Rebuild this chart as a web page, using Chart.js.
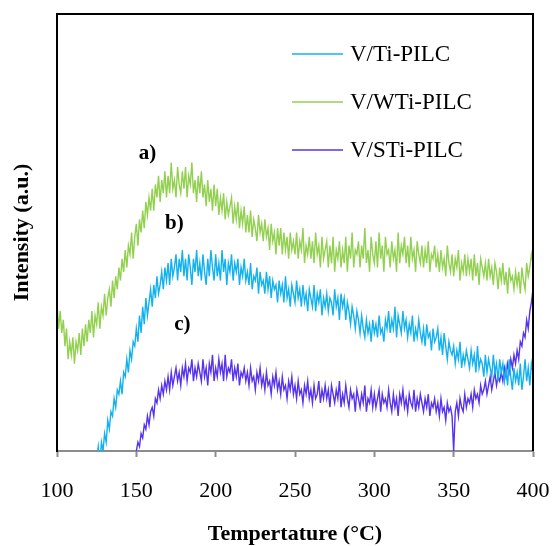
<!DOCTYPE html>
<html>
<head>
<meta charset="utf-8">
<script src="https://cdn.jsdelivr.net/npm/chart.js@4/dist/chart.umd.min.js"></script>
<style>
  html, body { margin: 0; padding: 0; background: #fff; }
</style>
</head>
<body>
<canvas id="chart" width="552" height="546"></canvas>
<script>
// temperature grid: 100..400 °C every 1 °C
const tempStart = 100;
const tempStep = 1;
const xTicks = [100, 150, 200, 250, 300, 350, 400];

const seriesNames = ["V/Ti-PILC", "V/WTi-PILC", "V/STi-PILC"];
const seriesColors = ["#13b2ee", "#92d050", "#5733ee"];

// intensities (a.u., 0 = bottom of frame), one row = 10 °C
const tiPilc = [
  -10, -10, -10, -10, -10, -10, -10, -10, -10, -10,
  -10, -10, -10, -10, -10, -10, -10, -10, -10, -10,
  -10, -10, -10, -10, -6, -2, 1, -3, 2, 0,
  4, 2, 7, 5, 9, 8, 12, 10, 14, 13,
  16, 13, 18, 17, 21, 18, 23, 21, 25, 24,
  28, 25, 31, 27, 33, 29, 35, 31, 34, 37,
  33, 38, 35, 40, 36, 38, 41, 37, 42, 39,
  43, 38, 44, 40, 42, 45, 39, 44, 41, 46,
  40, 44, 39, 45, 42, 38, 44, 41, 46, 40,
  43, 39, 45, 41, 38, 44, 40, 46, 42, 39,
  45, 40, 43, 39, 46, 41, 44, 38, 43, 41,
  45, 39, 43, 41, 44, 38, 42, 40, 44, 39,
  41, 38, 43, 37, 40, 39, 42, 36, 41, 38,
  39, 36, 41, 37, 40, 35, 39, 37, 38, 34,
  39, 36, 38, 34, 40, 35, 37, 33, 38, 36,
  34, 39, 35, 37, 33, 38, 34, 36, 32, 37,
  35, 33, 38, 32, 36, 34, 37, 31, 35, 33,
  36, 32, 35, 34, 31, 37, 33, 35, 30, 36,
  33, 35, 30, 34, 32, 29, 33, 31, 28, 32,
  30, 27, 31, 28, 26, 30, 27, 29, 25, 30,
  27, 29, 26, 31, 27, 28, 25, 30, 28, 32,
  27, 30, 28, 33, 26, 31, 29, 27, 32, 28,
  30, 26, 29, 27, 31, 25, 28, 26, 30, 27,
  25, 28, 24, 29, 26, 27, 23, 28, 25, 26,
  28, 23, 26, 22, 27, 24, 21, 25, 23, 22,
  24, 20, 23, 21, 25, 19, 22, 20, 23, 21,
  19, 23, 20, 22, 18, 24, 19, 21, 20, 17,
  22, 18, 21, 19, 17, 22, 18, 20, 16, 21,
  18, 20, 16, 19, 15, 21, 17, 14, 19, 16,
  18, 15, 20, 14, 17, 21, 16, 19, 15, 20,
  18
];
const wtiPilc = [
  34, 28, 32, 27, 30, 24, 28, 21, 25, 22,
  26, 20, 25, 23, 27, 22, 28, 24, 29, 25,
  30, 27, 32, 26, 31, 29, 34, 28, 33, 31,
  36, 31, 35, 37, 33, 39, 35, 40, 37, 42,
  39, 44, 41, 46, 42, 47, 45, 50, 44, 49,
  52, 47, 53, 50, 55, 51, 57, 54, 58, 55,
  60, 55, 61, 58, 63, 57, 62, 59, 64, 58,
  63, 59, 66, 60, 62, 58, 65, 61, 59, 64,
  60, 65, 58, 63, 61, 66, 59, 62, 57, 63,
  59, 64, 58, 61, 56, 62, 57, 60, 55, 61,
  56, 60, 54, 58, 55, 59, 53, 57, 54, 56,
  58, 52, 56, 53, 57, 51, 55, 52, 56, 50,
  54, 50, 55, 49, 53, 51, 48, 54, 50, 52,
  48, 53, 49, 51, 46, 52, 48, 50, 45, 51,
  47, 51, 45, 50, 46, 49, 44, 50, 46, 48,
  45, 50, 44, 48, 46, 51, 43, 47, 45, 49,
  44, 48, 43, 50, 45, 47, 42, 49, 44, 46,
  48, 42, 47, 43, 49, 41, 46, 44, 48, 42,
  46, 43, 49, 41, 47, 44, 50, 42, 46, 45,
  48, 42, 47, 44, 51, 43, 46, 41, 49, 45,
  43, 48, 42, 50, 44, 47, 41, 49, 45, 46,
  42, 48, 44, 46, 41, 50, 43, 47, 45, 49,
  43, 47, 42, 49, 44, 46, 41, 48, 45, 43,
  47, 42, 46, 43, 48, 41, 45, 44, 47, 42,
  45, 41, 46, 42, 44, 40, 47, 43, 41, 45,
  40, 44, 42, 46, 39, 43, 41, 45, 40, 44,
  41, 44, 39, 45, 40, 43, 38, 44, 42, 40,
  43, 39, 44, 40, 42, 38, 43, 41, 37, 42,
  39, 43, 38, 41, 36, 42, 39, 40, 37, 41,
  38, 41, 36, 42, 39, 37, 43, 40, 42, 45,
  43
];
const stiPilc = [
  -10, -10, -10, -10, -10, -10, -10, -10, -10, -10,
  -10, -10, -10, -10, -10, -10, -10, -10, -10, -10,
  -10, -10, -10, -10, -10, -10, -10, -10, -10, -10,
  -10, -10, -10, -10, -10, -10, -10, -10, -10, -10,
  -10, -10, -10, -10, -10, -10, -10, -10, -10, -10,
  0, 2, 1, 4, 3, 6, 5, 8, 6, 9,
  10, 8, 12, 11, 14, 12, 15, 13, 16, 14,
  17, 14, 18, 15, 17, 19, 16, 18, 15, 19,
  17, 20, 16, 19, 18, 21, 16, 19, 17, 20,
  18, 16, 21, 17, 19, 15, 20, 18, 22, 16,
  19, 17, 21, 18, 20, 16, 22, 17, 19, 18,
  21, 16, 19, 17, 20, 15, 18, 17, 19, 16,
  18, 15, 19, 16, 17, 14, 18, 16, 19, 15,
  17, 14, 18, 15, 16, 13, 17, 15, 18, 14,
  16, 13, 17, 14, 15, 12, 16, 14, 17, 13,
  15, 12, 16, 13, 14, 11, 15, 13, 16, 12,
  14, 11, 15, 12, 13, 16, 11, 14, 12, 15,
  12, 14, 10, 15, 13, 11, 14, 12, 16, 10,
  13, 11, 15, 12, 10, 14, 12, 13, 9, 14,
  12, 10, 13, 11, 15, 9, 12, 11, 14, 10,
  13, 10, 12, 14, 9, 13, 11, 12, 10, 14,
  11, 9, 13, 10, 12, 8, 13, 11, 14, 10,
  12, 9, 13, 11, 10, 14, 9, 12, 10, 13,
  11, 9, 12, 10, 13, 8, 11, 10, 12, 9,
  11, 8, 12, 9, 10, 7, 11, 9, 10, 8,
  0, 9, 11, 8, 12, 10, 9, 13, 10, 12,
  11, 13, 10, 14, 12, 13, 11, 15, 13, 14,
  16, 13, 15, 17, 14, 16, 18, 15, 17, 16,
  18, 16, 19, 17, 20, 18, 21, 19, 22, 20,
  23, 21, 25, 24, 27, 26, 30, 28, 32, 34,
  37
];

// curve tags a) b) c)
const tagTexts = ["a)", "b)", "c)"];
const tagTemps = [157, 174, 179];
const tagValues = [68, 52, 29];

const serif = "'Times New Roman', 'Liberation Serif', serif";

function toPoints(values) {
  return values.map((v, i) => ({ x: tempStart + i * tempStep, y: v }));
}

// black frame on top / right / left
const framePlugin = {
  id: "frame",
  afterDatasetsDraw(chart) {
    const { ctx, chartArea: a } = chart;
    ctx.save();
    ctx.strokeStyle = "#000";
    ctx.lineWidth = 2;
    ctx.beginPath();
    ctx.moveTo(a.left, a.bottom);
    ctx.lineTo(a.left, a.top);
    ctx.lineTo(a.right, a.top);
    ctx.lineTo(a.right, a.bottom);
    ctx.stroke();
    ctx.restore();
  },
};

// stacked legend in the upper right
const legendPlugin = {
  id: "stackLegend",
  afterDraw(chart) {
    const ctx = chart.ctx;
    ctx.save();
    ctx.font = "23px " + serif;
    ctx.textBaseline = "middle";
    ctx.fillStyle = "#000";
    chart.data.datasets.forEach((ds, i) => {
      const y = 54 + i * 48;
      ctx.strokeStyle = ds.borderColor;
      ctx.lineWidth = 1.5;
      ctx.beginPath();
      ctx.moveTo(292, y);
      ctx.lineTo(343, y);
      ctx.stroke();
      ctx.fillText(ds.label, 350, y + 1);
    });
    ctx.restore();
  },
};

const tagPlugin = {
  id: "tags",
  afterDraw(chart) {
    const { ctx, scales } = chart;
    ctx.save();
    ctx.font = "bold 21px " + serif;
    ctx.textAlign = "center";
    ctx.textBaseline = "middle";
    ctx.fillStyle = "#000";
    tagTexts.forEach((t, i) => {
      ctx.fillText(t, scales.x.getPixelForValue(tagTemps[i]), scales.y.getPixelForValue(tagValues[i]));
    });
    ctx.restore();
  },
};

const allSeries = [tiPilc, wtiPilc, stiPilc];

new Chart(document.getElementById("chart"), {
  type: "line",
  data: {
    datasets: allSeries.map((vals, i) => ({
      label: seriesNames[i],
      data: toPoints(vals),
      borderColor: seriesColors[i],
      borderWidth: 1.4,
      pointRadius: 0,
      tension: 0,
      fill: false,
    })),
  },
  options: {
    responsive: false,
    animation: false,
    layout: { padding: { left: 0, right: 19, top: 14, bottom: 0 } },
    plugins: { legend: { display: false }, tooltip: { enabled: false } },
    scales: {
      x: {
        type: "linear",
        min: 100,
        max: 400,
        afterBuildTicks(scale) {
          scale.ticks = xTicks.map((v) => ({ value: v }));
        },
        ticks: { color: "#000", font: { family: serif, size: 22 }, padding: 21, maxRotation: 0 },
        grid: { drawOnChartArea: false, drawTicks: true, tickLength: 6, tickWidth: 2, color: "#8c8c8c" },
        border: { color: "#8c8c8c", width: 2 },
        title: {
          display: true,
          text: "Tempertature (°C)",
          color: "#000",
          font: { family: serif, size: 22, weight: "bold" },
          padding: { top: 0, bottom: -2 },
        },
        afterFit(scale) {
          scale.height = 95;
          scale.paddingLeft = 0;
          scale.paddingRight = 0;
        },
      },
      y: {
        min: 0,
        max: 100,
        ticks: { display: false },
        grid: { drawOnChartArea: false, drawTicks: false },
        border: { color: "#000", width: 2 },
        title: {
          display: true,
          text: "Intensity (a.u.)",
          color: "#000",
          font: { family: serif, size: 22, weight: "bold" },
          padding: { top: 9, bottom: 4 },
        },
        afterFit(scale) {
          scale.width = 57;
        },
      },
    },
  },
  plugins: [framePlugin, legendPlugin, tagPlugin],
});
</script>
</body>
</html>
